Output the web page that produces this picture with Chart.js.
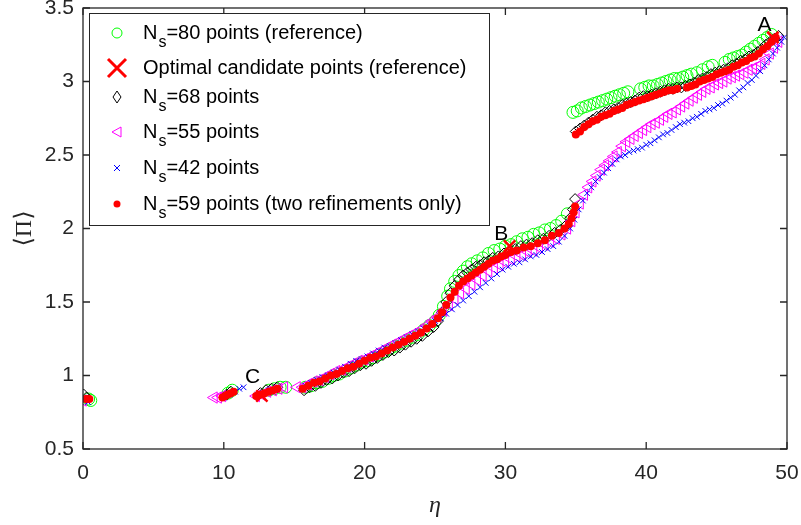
<!DOCTYPE html>
<html>
<head>
<meta charset="utf-8">
<script src="https://cdn.jsdelivr.net/npm/chart.js@4.4.1/dist/chart.umd.min.js"></script>
<style>
html, body { margin: 0; padding: 0; background: #fff; }
#wrap { width: 801px; height: 525px; }
</style>
</head>
<body>
<div id="wrap"><canvas id="grafica"></canvas></div>
<script>
// ticks de los ejes
const xTicks = [0, 10, 20, 30, 40, 50];
const yTicks = [0.5, 1, 1.5, 2, 2.5, 3, 3.5];

// series [eta, <Pi>]
const ns80 = [[0.4,0.84],[0.55,0.83],[10.3,0.88],[10.6,0.9],[13.2,0.9],[13.6,0.91],[14.0,0.92],[14.4,0.92],
  [15.8,0.92],[16.2,0.93],[16.6,0.95],[17.0,0.96],[17.4,0.98],[17.8,1.0],[18.2,1.01],[18.6,1.03],[19.0,1.05],[19.4,1.07],[19.8,1.09],
  [20.2,1.1],[20.6,1.12],[21.0,1.14],[21.4,1.16],[21.8,1.18],[22.2,1.2],[22.6,1.22],[23.0,1.24],[23.4,1.26],[23.8,1.28],[24.2,1.31],
  [24.6,1.34],[25.0,1.37],[25.3,1.41],[25.6,1.47],[25.9,1.54],[26.1,1.59],[26.4,1.64],[26.7,1.68],[27.0,1.71],[27.3,1.74],[27.6,1.76],
  [28.0,1.78],[28.4,1.8],[28.8,1.83],[29.2,1.85],[29.6,1.86],[30.0,1.88],[30.4,1.89],[30.8,1.91],[31.2,1.93],[31.6,1.94],[32.0,1.96],
  [32.4,1.97],[32.8,1.99],[33.2,2.0],[33.6,2.02],[34.0,2.05],[34.4,2.1],
  [34.8,2.79],[35.1,2.8],[35.4,2.82],[35.7,2.83],[36.0,2.84],[36.3,2.85],[36.6,2.86],[36.9,2.87],[37.2,2.88],[37.5,2.89],[37.8,2.9],
  [38.1,2.91],[38.4,2.92],[38.7,2.93],[39.6,2.95],[39.9,2.96],[40.2,2.97],[40.5,2.97],[40.8,2.98],[41.1,2.99],[41.4,3.0],[41.7,3.01],
  [42.0,3.02],[42.3,3.02],[42.6,3.03],[42.9,3.04],[43.2,3.05],[43.6,3.06],[44.0,3.08],[44.4,3.1],[44.7,3.11],[45.6,3.13],[45.9,3.15],
  [46.2,3.16],[46.5,3.17],[46.8,3.18],[47.1,3.2],[47.4,3.22],[47.7,3.24],[48.0,3.26],[48.3,3.28],[48.6,3.3],[48.9,3.32]];

const optimos = [[49.0,3.3],[30.3,1.88],[12.7,0.86]];

const ns68 = [[0.05,0.87],[0.25,0.85],[10.2,0.87],[10.5,0.89],[12.6,0.88],[13.0,0.9],[13.4,0.91],[13.8,0.92],
  [15.7,0.9],[16.1,0.92],[16.5,0.93],[16.9,0.95],[17.3,0.97],[17.7,0.98],[18.1,1.0],[18.5,1.02],[18.9,1.03],[19.3,1.05],[19.7,1.07],
  [20.1,1.08],[20.5,1.1],[20.9,1.12],[21.3,1.14],[21.7,1.16],[22.1,1.17],[22.5,1.19],[22.9,1.21],[23.3,1.23],[23.7,1.25],[24.1,1.27],
  [24.5,1.3],[24.9,1.33],[25.2,1.37],[25.5,1.43],[25.8,1.5],[26.1,1.56],[26.4,1.61],[26.7,1.65],[27.0,1.68],[27.3,1.7],[27.6,1.72],
  [27.9,1.74],[28.2,1.75],[28.5,1.77],[28.8,1.78],[29.1,1.8],[29.5,1.81],[29.9,1.83],[30.3,1.85],[30.7,1.86],[31.1,1.88],[31.5,1.89],
  [31.9,1.9],[32.3,1.92],[32.7,1.93],[33.1,1.95],[33.5,1.97],[33.9,1.99],[34.3,2.02],[34.6,2.07],[34.8,2.13],[34.95,2.2],
  [35.0,2.66],[35.3,2.68],[35.6,2.7],[35.9,2.72],[36.2,2.74],[36.5,2.76],[36.8,2.77],[37.1,2.79],[37.4,2.8],[37.7,2.81],[38.0,2.82],
  [38.3,2.84],[38.6,2.85],[38.9,2.86],[39.2,2.87],[39.5,2.89],[39.8,2.9],[40.1,2.9],[40.4,2.91],[40.7,2.92],[41.0,2.93],[41.3,2.94],
  [41.6,2.95],[41.9,2.95],[42.2,2.96],[42.5,2.96],[42.8,2.97],[43.1,2.98],[43.4,2.99],[43.7,3.01],[44.0,3.02],[44.3,3.03],[44.6,3.05],
  [44.9,3.06],[45.2,3.07],[45.5,3.08],[45.8,3.09],[46.1,3.11],[46.4,3.12],[46.7,3.14],[47.0,3.15],[47.3,3.17],[47.6,3.18],[47.9,3.2],
  [48.2,3.22],[48.5,3.25],[48.8,3.27],[49.1,3.29],[49.4,3.31]];

const ns55 = [[0.0,0.83],[9.3,0.85],[9.6,0.85],[9.9,0.86],[12.3,0.86],[12.7,0.87],[13.1,0.89],[13.5,0.9],[13.9,0.91],[14.3,0.92],[15.2,0.92],
  [15.6,0.92],[16.0,0.94],[16.4,0.96],[16.8,0.97],[17.2,0.99],[17.6,1.01],[18.0,1.03],[18.4,1.04],[18.8,1.06],[19.2,1.08],[19.6,1.1],
  [20.0,1.11],[20.4,1.13],[20.8,1.15],[21.2,1.17],[21.6,1.19],[22.0,1.21],[22.4,1.23],[22.8,1.25],[23.2,1.27],[23.6,1.29],[24.0,1.31],
  [24.4,1.34],[24.8,1.37],[25.2,1.4],[25.6,1.44],[26.0,1.48],[26.4,1.52],[26.8,1.56],[27.2,1.59],[27.6,1.62],[28.0,1.65],[28.4,1.68],
  [28.8,1.71],[29.2,1.73],[29.6,1.75],[30.0,1.77],[30.4,1.79],[30.8,1.81],[31.2,1.82],[31.6,1.84],[32.0,1.85],[32.4,1.87],[32.8,1.89],
  [33.2,1.91],[33.6,1.93],[34.0,1.96],[34.4,2.0],[34.7,2.05],[35.0,2.11],[35.3,2.17],[35.6,2.23],[35.9,2.28],[36.2,2.32],[36.5,2.36],
  [36.8,2.4],[37.1,2.43],[37.4,2.46],[37.7,2.49],[38.0,2.52],[38.3,2.56],[38.6,2.59],[38.9,2.61],[39.2,2.63],[39.5,2.65],[39.8,2.67],
  [40.1,2.69],[40.4,2.71],[40.7,2.72],[41.0,2.74],[41.3,2.76],[41.6,2.78],[41.9,2.79],[42.2,2.81],[42.5,2.83],[42.8,2.85],[43.1,2.87],
  [43.4,2.89],[43.7,2.91],[44.0,2.93],[44.3,2.95],[44.6,2.96],[44.9,2.98],[45.2,2.99],[45.5,3.0],[45.8,3.02],[46.1,3.03],[46.4,3.04],
  [46.7,3.05],[47.0,3.06],[47.3,3.08],[47.6,3.09],[47.9,3.1],[48.2,3.12],[48.5,3.15],[48.8,3.19],[49.1,3.23],[49.4,3.27]];

const ns42 = [[0.1,0.83],[0.35,0.82],[10.0,0.85],[10.4,0.87],[10.8,0.89],[11.1,0.91],[11.4,0.92],[12.4,0.87],[12.8,0.88],[13.2,0.9],
  [15.8,0.93],[16.2,0.95],[16.6,0.97],[17.0,0.99],[17.4,1.0],[17.8,1.02],[18.2,1.04],[18.6,1.06],[19.0,1.08],[19.4,1.1],[19.8,1.11],
  [20.2,1.13],[20.6,1.15],[21.0,1.17],[21.4,1.19],[21.8,1.2],[22.2,1.22],[22.6,1.24],[23.0,1.26],[23.4,1.28],[23.8,1.3],[24.2,1.32],
  [24.6,1.34],[25.0,1.37],[25.4,1.39],[25.8,1.42],[26.2,1.45],[26.6,1.48],[27.0,1.51],[27.4,1.54],[27.8,1.57],[28.2,1.6],[28.6,1.63],
  [29.0,1.66],[29.4,1.69],[29.8,1.72],[30.2,1.74],[30.6,1.76],[31.0,1.77],[31.4,1.79],[31.8,1.81],[32.2,1.82],[32.6,1.84],[33.0,1.86],
  [33.4,1.88],[33.8,1.91],[34.2,1.95],[34.6,2.0],[34.9,2.06],[35.2,2.13],[35.5,2.19],[35.8,2.24],[36.1,2.28],[36.4,2.32],[36.7,2.35],
  [37.0,2.38],[37.3,2.41],[37.6,2.44],[37.9,2.47],[38.2,2.49],[38.5,2.5],[38.8,2.52],[39.1,2.53],[39.4,2.54],[39.7,2.55],[40.0,2.57],
  [40.3,2.58],[40.6,2.6],[40.9,2.62],[41.2,2.64],[41.5,2.65],[41.8,2.67],[42.1,2.69],[42.4,2.71],[42.7,2.72],[43.0,2.73],[43.3,2.75],
  [43.6,2.76],[43.9,2.78],[44.2,2.8],[44.5,2.81],[44.8,2.82],[45.1,2.84],[45.4,2.85],[45.7,2.87],[46.0,2.89],[46.3,2.91],[46.6,2.94],
  [46.9,2.96],[47.2,2.99],[47.5,3.01],[47.8,3.04],[48.1,3.07],[48.4,3.11],[48.7,3.15],[49.0,3.19],[49.3,3.23],[49.6,3.27],[49.8,3.3]];

const ns59 = [[0.2,0.84],[0.45,0.84],[9.9,0.85],[10.1,0.86],[10.3,0.87],[10.5,0.88],[10.7,0.89],
  [12.3,0.86],[12.6,0.87],[12.9,0.88],[13.2,0.89],[13.5,0.9],[13.8,0.91],
  [15.6,0.91],[16.0,0.93],[16.4,0.95],[16.8,0.96],[17.2,0.98],[17.6,1.0],[18.0,1.01],[18.4,1.03],[18.8,1.05],[19.2,1.06],[19.6,1.08],
  [20.0,1.1],[20.4,1.12],[20.8,1.13],[21.2,1.15],[21.6,1.17],[22.0,1.19],[22.4,1.21],[22.8,1.23],[23.2,1.25],[23.6,1.27],[24.0,1.29],
  [24.4,1.32],[24.8,1.35],[25.2,1.39],[25.5,1.43],[25.8,1.48],[26.1,1.53],[26.4,1.57],[26.7,1.61],[27.0,1.64],[27.3,1.66],[27.6,1.68],
  [27.9,1.7],[28.2,1.72],[28.5,1.74],[28.8,1.76],[29.1,1.78],[29.4,1.79],[29.7,1.81],[30.0,1.82],[30.4,1.84],[30.8,1.85],[31.3,1.87],
  [31.8,1.88],[32.3,1.9],[32.8,1.92],[33.3,1.95],[33.8,1.97],[34.2,2.0],[34.5,2.03],[34.7,2.07],[34.85,2.11],[34.95,2.15],
  [35.0,2.64],[35.3,2.66],[35.6,2.69],[35.9,2.71],[36.2,2.73],[36.5,2.74],[36.8,2.76],[37.1,2.77],[37.4,2.78],[37.7,2.8],[38.0,2.81],
  [38.3,2.82],[38.6,2.84],[38.9,2.85],[39.2,2.86],[39.5,2.87],[39.8,2.88],[40.1,2.89],[40.4,2.9],[40.7,2.91],[41.0,2.92],[41.3,2.93],
  [41.6,2.94],[41.9,2.94],[42.2,2.95],[42.9,2.96],[43.2,2.97],[43.5,2.98],[43.8,3.0],[44.1,3.01],[44.4,3.02],[44.7,3.03],[45.0,3.05],
  [45.3,3.06],[45.6,3.07],[45.9,3.08],[46.2,3.1],[46.5,3.11],[46.8,3.13],[47.1,3.14],[47.4,3.16],[47.7,3.17],[48.0,3.19],[48.3,3.22],
  [48.6,3.24],[48.9,3.27],[49.2,3.3]];

// etiquetas A, B, C
const puntosNombre = ['A', 'B', 'C'];
const puntosEta = [48.4, 29.7, 12.05];
const puntosPi = [3.38, 1.96, 0.99];

const leyendaTextos = [
    'N_s=80 points (reference)',
    'Optimal candidate points (reference)',
    'N_s=68 points',
    'N_s=55 points',
    'N_s=42 points',
    'N_s=59 points (two refinements only)'
];

function aPuntos(serie) {
    return serie.map(p => ({ x: p[0], y: p[1] }));
}

// dibuja cada marcador de la leyenda
function marcador(ctx, tipo, x, y) {
    ctx.beginPath();
    if (tipo === 0) {
        ctx.strokeStyle = '#00ff00'; ctx.lineWidth = 1;
        ctx.arc(x, y, 5, 0, Math.PI * 2); ctx.stroke();
    } else if (tipo === 1) {
        ctx.strokeStyle = '#ff0000'; ctx.lineWidth = 3;
        ctx.moveTo(x - 9, y - 9); ctx.lineTo(x + 9, y + 9);
        ctx.moveTo(x + 9, y - 9); ctx.lineTo(x - 9, y + 9); ctx.stroke();
    } else if (tipo === 2) {
        ctx.strokeStyle = '#000'; ctx.lineWidth = 1;
        ctx.moveTo(x, y - 6); ctx.lineTo(x + 4, y); ctx.lineTo(x, y + 6); ctx.lineTo(x - 4, y); ctx.closePath(); ctx.stroke();
    } else if (tipo === 3) {
        ctx.strokeStyle = '#ff00ff'; ctx.lineWidth = 1;
        ctx.moveTo(x - 5, y); ctx.lineTo(x + 4, y - 5); ctx.lineTo(x + 4, y + 5); ctx.closePath(); ctx.stroke();
    } else if (tipo === 4) {
        ctx.strokeStyle = '#0000ff'; ctx.lineWidth = 1;
        ctx.moveTo(x - 3, y - 3); ctx.lineTo(x + 3, y + 3);
        ctx.moveTo(x + 3, y - 3); ctx.lineTo(x - 3, y + 3); ctx.stroke();
    } else {
        ctx.fillStyle = '#ff0000';
        ctx.arc(x, y, 3.5, 0, Math.PI * 2); ctx.fill();
    }
}

const marcoPlugin = {
    id: 'marco',
    afterDatasetsDraw(chart) {
        const ctx = chart.ctx;
        const a = chart.chartArea;
        const sx = chart.scales.x, sy = chart.scales.y;
        ctx.save();
        // caja de ejes con ticks hacia dentro
        ctx.strokeStyle = '#262626';
        ctx.lineWidth = 1.3;
        ctx.strokeRect(a.left, a.top, a.right - a.left, a.bottom - a.top);
        ctx.beginPath();
        xTicks.forEach(v => {
            const px = sx.getPixelForValue(v);
            ctx.moveTo(px, a.bottom); ctx.lineTo(px, a.bottom - 7);
            ctx.moveTo(px, a.top); ctx.lineTo(px, a.top + 7);
        });
        yTicks.forEach(v => {
            const py = sy.getPixelForValue(v);
            ctx.moveTo(a.left, py); ctx.lineTo(a.left + 7, py);
            ctx.moveTo(a.right, py); ctx.lineTo(a.right - 7, py);
        });
        ctx.stroke();

        // letras A B C
        ctx.fillStyle = '#000';
        ctx.font = '21px "Liberation Sans", Arial, sans-serif';
        ctx.textAlign = 'center';
        ctx.textBaseline = 'middle';
        puntosNombre.forEach((n, i) => {
            ctx.fillText(n, sx.getPixelForValue(puntosEta[i]), sy.getPixelForValue(puntosPi[i]));
        });

        // leyenda
        const lx = 89, ly = 13, lw = 400, lh = 212;
        ctx.fillStyle = '#fff';
        ctx.fillRect(lx, ly, lw, lh);
        ctx.strokeStyle = '#262626';
        ctx.lineWidth = 1;
        ctx.strokeRect(lx + 0.5, ly + 0.5, lw, lh);
        const filas = [32, 67, 96, 131, 167, 203];
        leyendaTextos.forEach((t, i) => {
            const y = filas[i];
            marcador(ctx, i, 117, y + 1);
            ctx.fillStyle = '#000';
            ctx.textAlign = 'left';
            ctx.textBaseline = 'alphabetic';
            let x = 143;
            const base = y + 7;
            const partes = t.split('_s');
            ctx.font = '20px "Liberation Sans", Arial, sans-serif';
            ctx.fillText(partes[0], x, base);
            x += ctx.measureText(partes[0]).width;
            if (partes.length > 1) {
                ctx.font = '16px "Liberation Sans", Arial, sans-serif';
                ctx.fillText('s', x + 1, base + 8);
                x += ctx.measureText('s').width + 1;
                ctx.font = '20px "Liberation Sans", Arial, sans-serif';
                ctx.fillText(partes[1], x, base);
            }
        });
        ctx.restore();
    }
};

const ctx = document.getElementById('grafica').getContext('2d');
const chart = new Chart(ctx, {
    type: 'scatter',
    data: {
        datasets: [{
            label: 'N_s=80',
            data: aPuntos(ns80),
            pointStyle: 'circle',
            pointRadius: 6,
            borderColor: '#00ff00',
            backgroundColor: 'rgba(0,0,0,0)',
            borderWidth: 1,
            order: 6
        }, {
            label: 'Optimal',
            data: aPuntos(optimos),
            pointStyle: 'crossRot',
            pointRadius: 8,
            borderColor: '#ff0000',
            backgroundColor: '#ff0000',
            borderWidth: 2.5,
            order: 1
        }, {
            label: 'N_s=68',
            data: aPuntos(ns68),
            pointStyle: 'rectRot',
            pointRadius: 5.5,
            borderColor: '#000000',
            backgroundColor: 'rgba(0,0,0,0)',
            borderWidth: 1,
            order: 5
        }, {
            label: 'N_s=55',
            data: aPuntos(ns55),
            pointStyle: 'triangle',
            pointRotation: -90,
            pointRadius: 6.5,
            borderColor: '#ff00ff',
            backgroundColor: 'rgba(0,0,0,0)',
            borderWidth: 1,
            order: 4
        }, {
            label: 'N_s=42',
            data: aPuntos(ns42),
            pointStyle: 'crossRot',
            pointRadius: 4,
            borderColor: '#0000ff',
            backgroundColor: '#0000ff',
            borderWidth: 1,
            order: 3
        }, {
            label: 'N_s=59',
            data: aPuntos(ns59),
            pointStyle: 'circle',
            pointRadius: 4,
            borderColor: '#ff0000',
            backgroundColor: '#ff0000',
            borderWidth: 0,
            order: 2
        }]
    },
    options: {
        responsive: true,
        maintainAspectRatio: false,
        animation: false,
        devicePixelRatio: 1,
        layout: {
            autoPadding: false,
            padding: { left: 0, right: 14, top: 8, bottom: 0 }
        },
        plugins: {
            legend: { display: false },
            tooltip: { enabled: false }
        },
        scales: {
            x: {
                type: 'linear',
                min: 0,
                max: 50,
                afterBuildTicks: s => { s.ticks = xTicks.map(v => ({ value: v })); },
                afterFit: s => { s.height = 76; s.paddingLeft = 0; s.paddingRight = 0; },
                grid: { display: false, drawTicks: false },
                border: { display: false },
                ticks: {
                    padding: 12,
                    color: '#262626',
                    font: { family: '"Liberation Sans", Arial, sans-serif', size: 21 },
                    callback: v => String(v)
                },
                title: {
                    display: true,
                    text: 'η',
                    color: '#262626',
                    padding: { top: 0, bottom: 5 },
                    font: { family: '"Liberation Serif", "DejaVu Serif", serif', size: 24, style: 'italic' }
                }
            },
            y: {
                type: 'linear',
                min: 0.5,
                max: 3.5,
                afterBuildTicks: s => { s.ticks = yTicks.map(v => ({ value: v })); },
                afterFit: s => { s.width = 83; s.paddingTop = 0; s.paddingBottom = 0; },
                grid: { display: false, drawTicks: false },
                border: { display: false },
                ticks: {
                    padding: 9,
                    color: '#262626',
                    font: { family: '"Liberation Sans", Arial, sans-serif', size: 21 },
                    callback: v => String(v)
                },
                title: {
                    display: true,
                    text: '⟨Π⟩',
                    color: '#262626',
                    padding: { top: 10, bottom: 0 },
                    font: { family: '"Liberation Serif", "DejaVu Serif", serif', size: 24 }
                }
            }
        }
    },
    plugins: [marcoPlugin]
});
</script>
</body>
</html>
